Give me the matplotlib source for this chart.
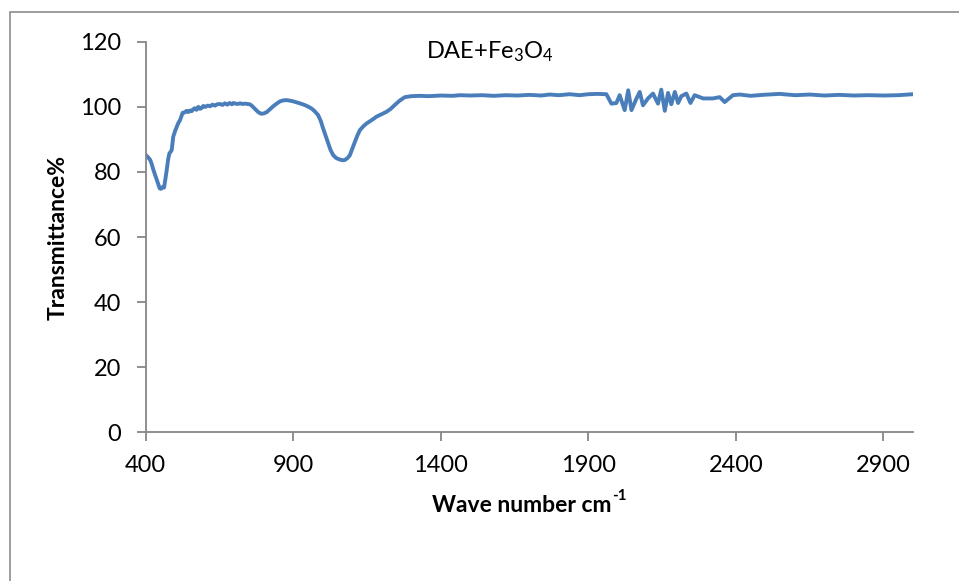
import matplotlib.pyplot as plt
from matplotlib.patches import Rectangle

plt.rcParams['font.family'] = ['Lato', 'DejaVu Sans']
plt.rcParams['mathtext.fontset'] = 'custom'
plt.rcParams['mathtext.rm'] = 'Lato'
plt.rcParams['mathtext.it'] = 'Lato'
plt.rcParams['mathtext.bf'] = 'Lato:bold'

# FTIR spectrum of DAE+Fe3O4
wavenumber = [
    400, 408, 415, 420, 426, 432, 438, 443, 447, 451, 456, 462, 466, 471, 476,
    480, 485, 488, 493, 499, 505, 510, 516, 521, 525, 532, 538, 544, 550, 556,
    561, 566, 572, 578, 584, 590, 595, 602, 610, 618, 626, 634, 642, 652, 660,
    668, 676, 684, 692, 697, 705, 712, 720, 728, 736, 745, 753, 760, 770, 780,
    788, 793, 800, 810, 820, 832, 845, 855, 866, 877, 890, 900, 911, 922, 935,
    948, 962, 972, 984, 993, 1001, 1010, 1018, 1026, 1035, 1045, 1058, 1068,
    1075, 1084, 1092, 1100, 1109, 1118, 1126, 1137, 1148, 1165, 1182, 1200,
    1216, 1230, 1244, 1260, 1278, 1300, 1329, 1360, 1400, 1440, 1464, 1500,
    1540, 1580, 1620, 1660, 1700, 1740, 1769, 1800, 1837, 1870, 1900, 1930,
    1961, 1978, 1995, 2006, 2023, 2035, 2046, 2063, 2074, 2085, 2102, 2119,
    2136, 2147, 2159, 2170, 2181, 2193, 2204, 2215, 2232, 2246, 2260, 2289,
    2322, 2345, 2362, 2390, 2413, 2450, 2490, 2548, 2600, 2650, 2700, 2750,
    2800, 2850, 2900, 2950, 3000,
]
transmittance = [
    85.2, 84.5, 83.7, 82.5, 80.6, 79.0, 77.5, 76.0, 75.0, 74.8, 75.3, 75.2,
    77.5, 80.6, 84.0, 85.7, 86.3, 86.8, 90.8, 92.5, 93.9, 95.0, 95.9, 97.2,
    98.2, 98.3, 98.8, 98.4, 98.9, 98.7, 99.3, 99.6, 99.1, 100.0, 99.4, 99.7,
    100.3, 100.0, 100.4, 100.2, 100.7, 100.4, 100.8, 100.9, 100.6, 101.1,
    100.7, 101.2, 100.8, 101.2, 101.0, 100.9, 101.1, 100.9, 101.0, 100.9,
    100.8, 100.3, 99.4, 98.5, 98.0, 97.9, 98.0, 98.4, 99.2, 100.2, 101.1,
    101.7, 102.0, 102.1, 101.9, 101.7, 101.4, 101.1, 100.7, 100.2, 99.5, 98.7,
    97.5, 95.7, 93.4, 91.0, 88.8, 86.8, 85.2, 84.3, 83.8, 83.6, 83.7, 84.3,
    85.2, 87.2, 89.3, 91.4, 92.9, 94.0, 94.9, 95.9, 97.0, 97.8, 98.5, 99.4,
    100.6, 101.9, 103.0, 103.3, 103.4, 103.3, 103.5, 103.4, 103.6, 103.5,
    103.6, 103.4, 103.6, 103.5, 103.7, 103.5, 103.8, 103.6, 103.9, 103.6,
    103.9, 104.0, 103.9, 101.0, 101.2, 103.6, 99.0, 105.1, 99.0, 102.6, 104.6,
    100.5, 102.6, 104.1, 101.0, 105.3, 98.8, 104.3, 100.8, 104.6, 101.2,
    103.3, 104.1, 101.2, 103.6, 102.6, 102.6, 103.0, 101.5, 103.6, 103.8,
    103.4, 103.7, 104.0, 103.6, 103.8, 103.5, 103.7, 103.5, 103.6, 103.5,
    103.6, 103.9,
]

x_ticks = [400, 900, 1400, 1900, 2400, 2900]
y_ticks = [0, 20, 40, 60, 80, 100, 120]

fig = plt.figure(figsize=(9.59, 5.81), dpi=100)
ax = fig.add_axes([0.152, 0.256, 0.8, 0.672])

ax.plot(wavenumber, transmittance, color='#4A7EBB', linewidth=2.8)

ax.set_xlim(400, 3000)
ax.set_ylim(0, 120)
ax.set_xticks(x_ticks)
ax.set_yticks(y_ticks)

axis_gray = '#868686'
for side in ['top', 'right']:
    ax.spines[side].set_visible(False)
for side in ['left', 'bottom']:
    ax.spines[side].set_color(axis_gray)
    ax.spines[side].set_linewidth(1.3)
ax.tick_params(axis='both', colors=axis_gray, labelcolor='black',
               length=6.5, width=1.3, labelsize=17)
ax.tick_params(axis='y', pad=11)
ax.tick_params(axis='x', pad=10)

fig.text(490 / 959, 1 - 52 / 581, r'DAE+Fe$_3$O$_4$', fontsize=17,
         ha='center', va='center')
fig.text(58 / 959, 1 - 237 / 581, 'Transmittance%', fontsize=16.5,
         fontweight='bold', rotation=90, ha='center', va='center')

# x label with a small raised "-1"
xlab = fig.text(522 / 959, 1 - 506 / 581, 'Wave number cm', fontsize=16.5,
                fontweight='bold', ha='center', va='center')
ax.annotate('-1', xy=(1.0, 0.62), xycoords=xlab, fontsize=11,
            fontweight='bold', ha='left', va='bottom')

# chart area frame
fig.patches.append(Rectangle((10 / 959, -0.1), 1.2, 1.1 - 12 / 581,
                             transform=fig.transFigure, fill=False,
                             edgecolor='#8c8c8c', linewidth=1.2))

fig.savefig('out.png', dpi=100)
